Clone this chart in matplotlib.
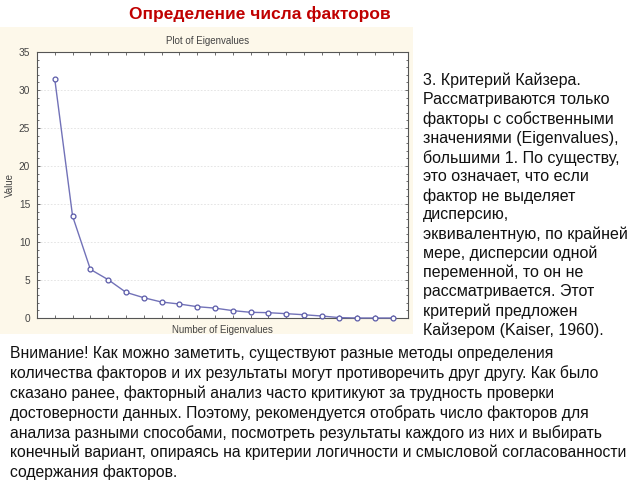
import matplotlib.pyplot as plt
from matplotlib.patches import Rectangle
from matplotlib.ticker import MultipleLocator

# scree plot values
numeros = list(range(1, 21))
valores = [31.4, 13.4, 6.4, 5.04, 3.38, 2.67, 2.1, 1.84, 1.49, 1.3,
           0.97, 0.75, 0.7, 0.57, 0.43, 0.26, 0.05, 0.0, 0.0, 0.0]
y_ticks = [0, 5, 10, 15, 20, 25, 30, 35]

titulo = "Определение числа факторов"
texto_derecha = ("3. Критерий Кайзера.\n"
                 "Рассматриваются только\n"
                 "факторы с собственными\n"
                 "значениями (Eigenvalues),\n"
                 "большими 1. По существу,\n"
                 "это означает, что если\n"
                 "фактор не выделяет\n"
                 "дисперсию,\n"
                 "эквивалентную, по крайней\n"
                 "мере, дисперсии одной\n"
                 "переменной, то он не\n"
                 "рассматривается. Этот\n"
                 "критерий предложен\n"
                 "Кайзером (Kaiser, 1960).")
texto_abajo = ("Внимание! Как можно заметить, существуют разные методы определения\n"
               "количества факторов и их результаты могут противоречить друг другу. Как было\n"
               "сказано ранее, факторный анализ часто критикуют за трудность проверки\n"
               "достоверности данных. Поэтому, рекомендуется отобрать число факторов для\n"
               "анализа разными способами, посмотреть результаты каждого из них и выбирать\n"
               "конечный вариант, опираясь на критерии логичности и смысловой согласованности\n"
               "содержания факторов.")

plt.rcParams['font.family'] = ['Liberation Sans', 'DejaVu Sans']

fig = plt.figure(figsize=(6.4, 4.8), dpi=100)
fig.patch.set_facecolor('white')

# cream panel behind the chart
panel = Rectangle((0, 1 - 334 / 480), 413 / 640, (334 - 27) / 480,
                  transform=fig.transFigure, facecolor='#fdf8ea',
                  edgecolor='none', zorder=-5)
fig.add_artist(panel)

fig.text(260 / 640, 1 - 14 / 480, titulo, ha='center', va='center',
         fontsize=12.5, fontweight='bold', color='#c00000')

ax = fig.add_axes([37 / 640, 1 - 318 / 480, (408 - 37) / 640, (318 - 52) / 480])
ax.set_facecolor('white')
ax.plot(numeros, valores, color='#7272b8', lw=1.0, marker='o', ms=3.5,
        mfc='white', mec='#5a5aa8', mew=0.9, clip_on=False, zorder=3)
ax.set_xlim(0, 20.85)
ax.set_ylim(0, 35)
ax.set_yticks(y_ticks)
ax.set_xticks(numeros)
ax.set_xticklabels([])
ax.yaxis.set_minor_locator(MultipleLocator(1))
ax.tick_params(axis='both', which='both', direction='in', top=True, right=True,
               color='#555555', length=2.5, width=0.6)
ax.tick_params(axis='y', which='minor', length=1.5)
ax.tick_params(axis='y', labelsize=7.3, labelcolor='#444444', pad=5)
for y in y_ticks[1:-1]:
    ax.axhline(y, color='#e0e0e0', lw=0.6, ls=(0, (2, 2)), zorder=1)
for s in ax.spines.values():
    s.set_color('#555555')
    s.set_linewidth(0.8)

fig.text(208 / 640, 1 - 41 / 480, "Plot of Eigenvalues", ha='center', va='center',
         fontsize=7, color='#444444')
fig.text(222 / 640, 1 - 330 / 480, "Number of Eigenvalues", ha='center', va='center',
         fontsize=7, color='#444444')
fig.text(10 / 640, 1 - 185 / 480, "Value", ha='center', va='center', rotation=90,
         fontsize=7, color='#444444')

fig.text(423 / 640, 1 - 73 / 480, texto_derecha, ha='left', va='top',
         fontsize=11.5, color='#111111', linespacing=1.31)
fig.text(10 / 640, 1 - 346 / 480, texto_abajo, ha='left', va='top',
         fontsize=11.3, color='#111111', linespacing=1.325)

fig.savefig('out.png', dpi=100, facecolor='white')
